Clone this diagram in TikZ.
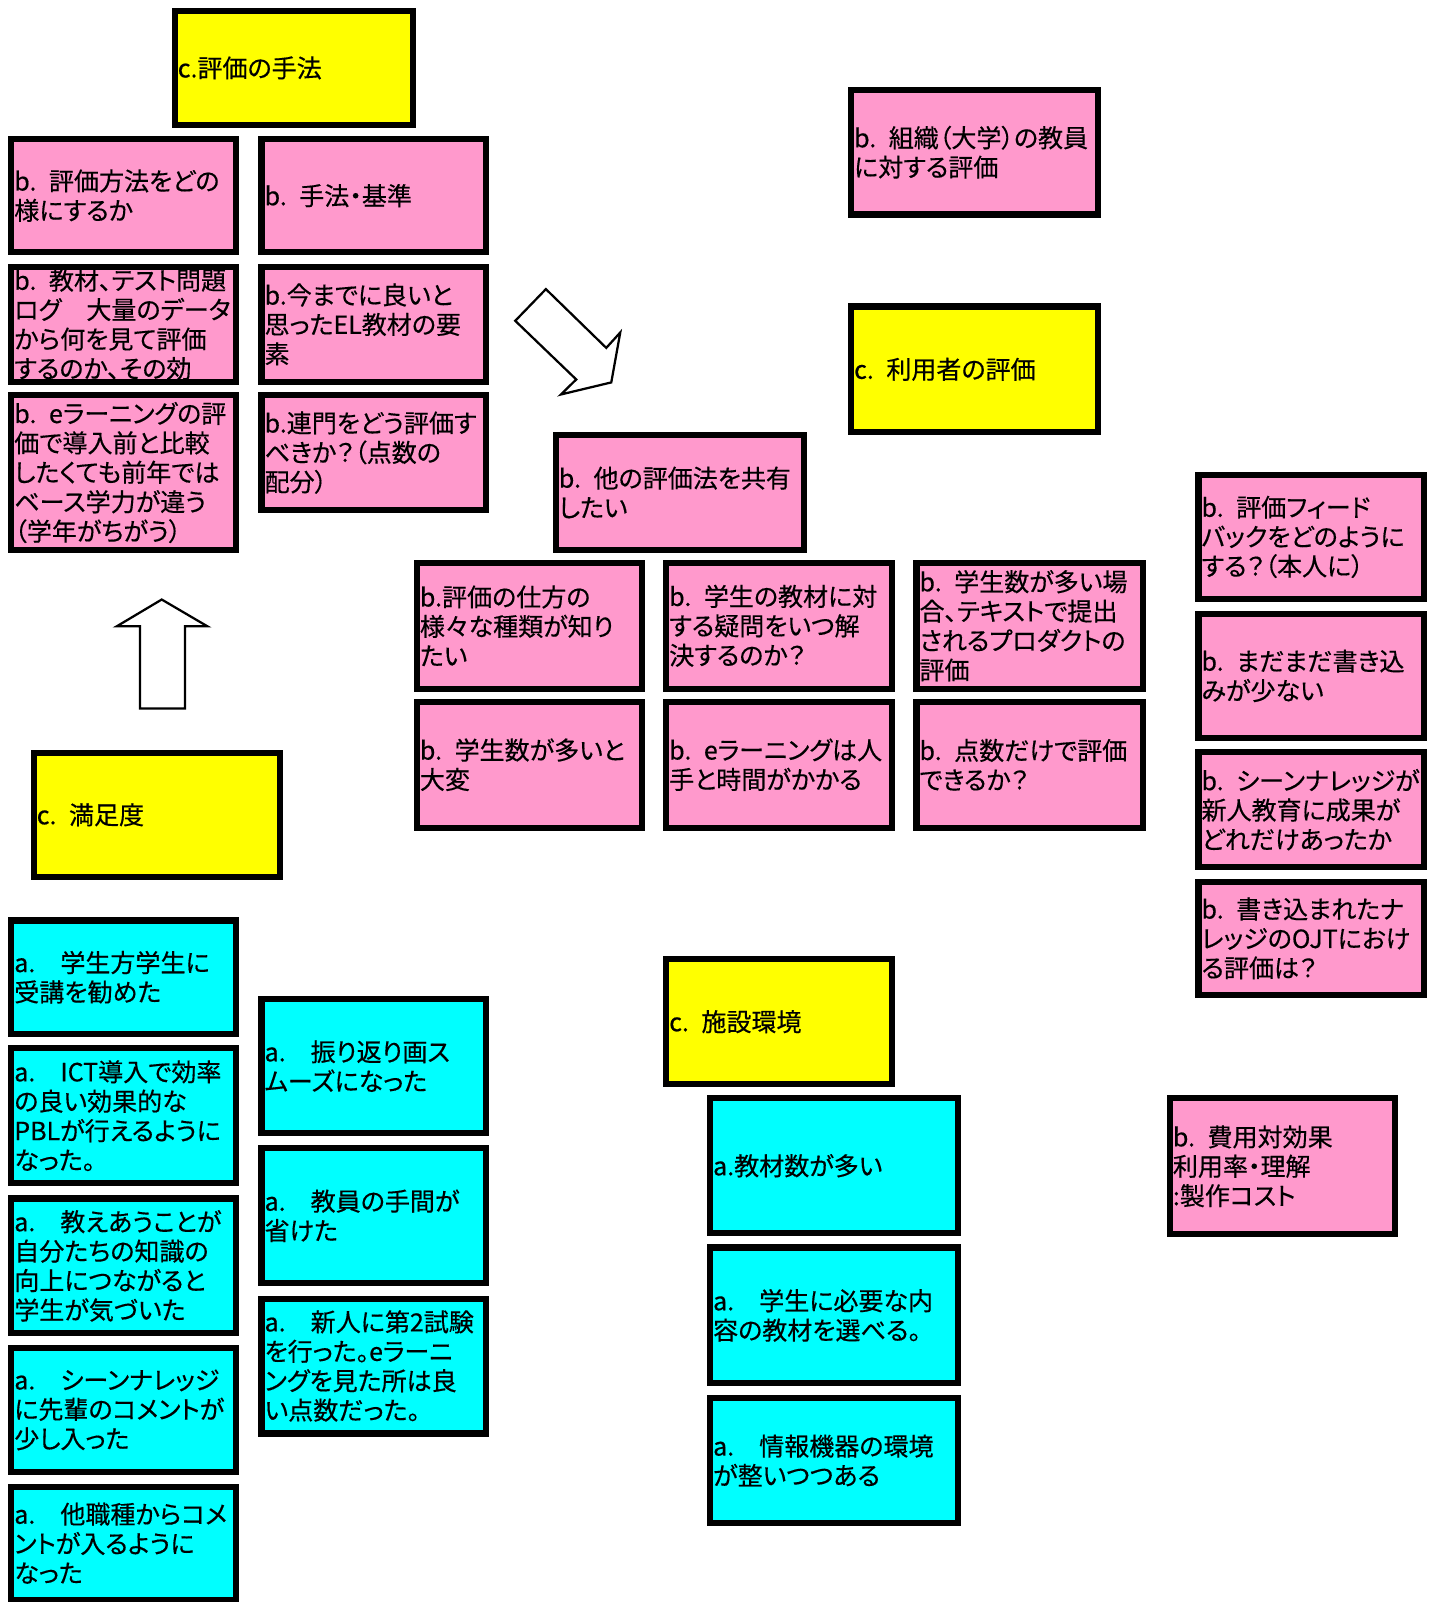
\documentclass[tikz,border=0pt]{standalone}
\usepackage{fontspec}
\setmainfont{Noto Sans CJK JP}[RawFeature={+palt},FakeBold=0.4]
\definecolor{notepink}{HTML}{FF99CC}
\definecolor{noteyellow}{HTML}{FFFF00}
\definecolor{notecyan}{HTML}{00FFFF}

% \card{name}{x1}{y1}{x2}{y2}{fill style}{text}: outer edges of the frame
\newcommand\card[7]{%
  \pgfmathsetmacro\cardw{#4-#2-6}%
  \pgfmathsetmacro\cardh{#5-#3-6}%
  \pgfmathsetmacro\cardtw{#4-#2-12}%
  \pgfmathsetmacro\cardx{(#2+#4)/2}%
  \pgfmathsetmacro\cardy{(#3+#5)/2}%
  \node[card,#6,minimum width=\cardw pt,minimum height=\cardh pt,text width=\cardtw pt]
    (#1) at (\cardx,\cardy) {#7};}

\tikzset{
  card/.style={draw=black,line width=6pt,inner xsep=3pt,inner ysep=0pt,
    align=left,anchor=center,
    font=\fontsize{24.5}{28.8}\selectfont},
  topic/.style={fill=noteyellow},
  issue/.style={fill=notepink},
  result/.style={fill=notecyan},
  hollowarrow/.style={draw=black,fill=white,line width=2.2pt,line join=miter}
}

\begin{document}
\begin{tikzpicture}[x=1pt,y=-1pt]
\path[use as bounding box,fill=white] (0,0) rectangle (1407,1568);

% evaluation methods
\card{methods}{168}{8}{407}{125}{topic}{c.評価の手法}
\card{how}{8}{133}{234}{250}{issue}{b. 評価方法をどの\\様にするか}
\card{criteria}{253}{133}{479}{250}{issue}{b. 手法・基準}
\card{logs}{8}{258}{234}{377}{issue}{b. 教材、テスト問題\\ログ　大量のデータ\\から何を見て評価\\するのか、その効}
\card{goodel}{253}{258}{479}{377}{issue}{b.今までに良いと\\思ったEL教材の要\\素}
\card{compare}{8}{384}{234}{541}{issue}{b. eラーニングの評\\価で導入前と比較\\したくても前年では\\ベース学力が違う\\（学年がちがう）}
\card{scoring}{253}{384}{479}{502}{issue}{b.連門をどう評価す\\べきか？（点数の\\配分）}

% arrow pointing down to the shared-methods group
\draw[hollowarrow] (534.3,283.0) -- (593.4,340.5) -- (607.1,325.4) -- (598.3,374.3)
  -- (549.0,386.1) -- (564.0,371.4) -- (504.3,314.0) -- cycle;

% user evaluation
\card{faculty}{830}{85}{1078}{213}{issue}{b. 組織（大学）の教員\\に対する評価}
\card{users}{830}{297}{1078}{426}{topic}{c. 利用者の評価}

\card{share}{541}{423}{790}{541}{issue}{b. 他の評価法を共有\\したい}
\card{kinds}{405}{548}{631}{677}{issue}{b.評価の仕方の\\様々な種類が知り\\たい}
\card{questions}{649}{548}{876}{677}{issue}{b. 学生の教材に対\\する疑問をいつ解\\決するのか？}
\card{products}{894}{548}{1122}{677}{issue}{b. 学生数が多い場\\合、テキストで提出\\されるプロダクトの\\評価}
\card{many}{405}{684}{631}{813}{issue}{b. 学生数が多いと\\大変}
\card{cost}{649}{684}{876}{813}{issue}{b. eラーニングは人\\手と時間がかかる}
\card{score}{894}{684}{1122}{813}{issue}{b. 点数だけで評価\\できるか？}

\card{feedback}{1170}{462}{1397}{589}{issue}{b. 評価フィード\\バックをどのように\\する？（本人に）}
\card{few}{1170}{598}{1397}{725}{issue}{b. まだまだ書き込\\みが少ない}
\card{newstaff}{1170}{733}{1397}{852}{issue}{b. シーンナレッジが\\新人教育に成果が\\どれだけあったか}
\card{ojt}{1170}{860}{1397}{977}{issue}{b. 書き込まれたナ\\レッジのOJTにおけ\\る評価は？}

% satisfaction
\draw[hollowarrow] (158.3,586.8) -- (203,613) -- (181.1,613) -- (181.1,693.5)
  -- (137.1,693.5) -- (137.1,613) -- (114.3,613) -- cycle;
\card{satisfaction}{30}{734}{277}{861}{topic}{c. 満足度}
\card{recommend}{8}{898}{234}{1015}{result}{a.　学生方学生に\\受講を勧めた}
\card{pbl}{8}{1023}{234}{1161}{result}{a.　ICT導入で効率\\の良い効果的な\\PBLが行えるように\\なった。}
\card{teach}{8}{1170}{234}{1308}{result}{a.　教えあうことが\\自分たちの知識の\\向上につながると\\学生が気づいた}
\card{seniors}{8}{1316}{234}{1444}{result}{a.　シーンナレッジ\\に先輩のコメントが\\少し入った}
\card{otherjobs}{8}{1452}{234}{1569}{result}{a.　他職種からコメ\\ントが入るように\\なった}
\card{review}{253}{975}{479}{1112}{result}{a.　振り返り画ス\\ムーズになった}
\card{effort}{253}{1121}{479}{1259}{result}{a.　教員の手間が\\省けた}
\card{secondtest}{253}{1268}{479}{1406}{result}{a.　新人に第2試験\\を行った。eラーニ\\ングを見た所は良\\い点数だった。}

% facilities
\card{facilities}{649}{936}{876}{1064}{topic}{c. 施設環境}
\card{materials}{692}{1072}{941}{1210}{result}{a.教材数が多い}
\card{choose}{692}{1218}{941}{1357}{result}{a.　学生に必要な内\\容の教材を選べる。}
\card{devices}{692}{1365}{941}{1494}{result}{a.　情報機器の環境\\が整いつつある}

\card{costeffect}{1142}{1072}{1368}{1211}{issue}{b. 費用対効果\\利用率・理解\\:製作コスト}
\end{tikzpicture}
\end{document}
